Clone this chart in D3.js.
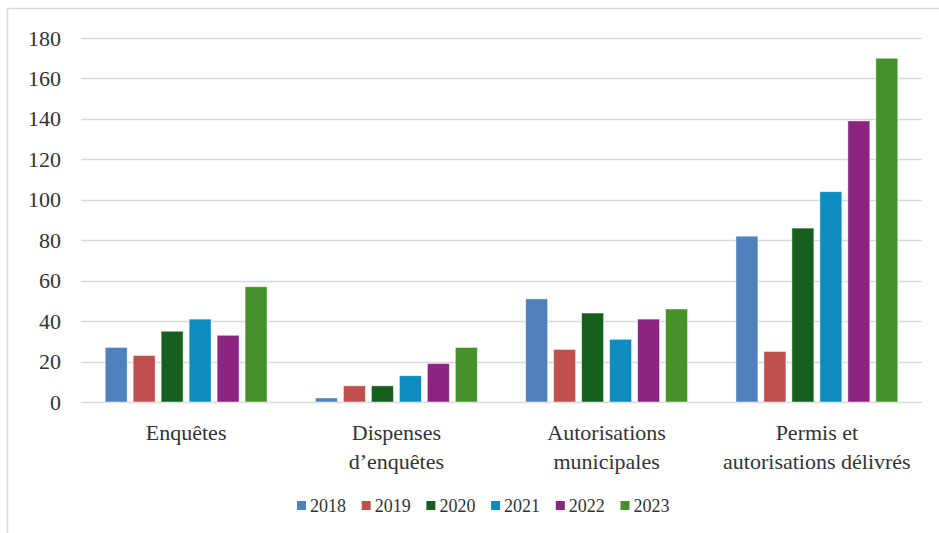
<!DOCTYPE html>
<html>
<head>
<meta charset="utf-8">
<script src="https://cdn.jsdelivr.net/npm/d3@7"></script>
<style>
    body { margin: 0; background: #fff; }
    svg text { font-family: "Liberation Serif", Tinos, "Times New Roman", "DejaVu Serif", serif; fill: #333; }
</style>
</head>
<body>
<div id="chart"></div>
<script>
const categories = [
    ["Enquêtes"],
    ["Dispenses", "d\u2019enquêtes"],
    ["Autorisations", "municipales"],
    ["Permis et", "autorisations délivrés"]
];
const years = ["2018", "2019", "2020", "2021", "2022", "2023"];
const colors = ["#4f81bd", "#c0504d", "#175f1f", "#0e8bbf", "#8b2581", "#46922a"];
const values_2018 = [27, 2, 51, 82];
const values_2019 = [23, 8, 26, 25];
const values_2020 = [35, 8, 44, 86];
const values_2021 = [41, 13, 31, 104];
const values_2022 = [33, 19, 41, 139];
const values_2023 = [57, 27, 46, 170];
const y_ticks = [0, 20, 40, 60, 80, 100, 120, 140, 160, 180];

const series = [values_2018, values_2019, values_2020, values_2021, values_2022, values_2023];
const serif = "'Liberation Serif', Tinos, 'Times New Roman', 'DejaVu Serif', serif";

const W = 939, H = 533;
const margin = {top: 38, right: 17, bottom: 131, left: 81};
const width = W - margin.left - margin.right,
    height = H - margin.top - margin.bottom;

const root = d3.select("#chart").append("svg")
    .attr("width", W)
    .attr("height", H)
    .attr("font-family", serif);

// outer frame
root.append("rect")
    .attr("x", 7.5).attr("y", 8.5)
    .attr("width", W).attr("height", H)
    .attr("fill", "none")
    .attr("stroke", "#d9d9d9")
    .attr("stroke-width", 1.5);

const svg = root.append("g")
    .attr("transform", "translate(" + margin.left + "," + margin.top + ")");

const cat_keys = categories.map(function (c) { return c.join(" "); });

const x0 = d3.scaleBand()
    .domain(cat_keys)
    .range([0, width])
    .paddingInner(0.23)
    .paddingOuter(0.115);

const x1 = d3.scaleBand()
    .domain(years)
    .range([0, x0.bandwidth()])
    .paddingInner(0.214)
    .paddingOuter(0);

const y = d3.scaleLinear()
    .domain([0, 180])
    .range([height, 0]);

// grid lines
svg.append("g")
    .selectAll("line")
    .data(y_ticks)
    .join("line")
    .attr("x1", 0)
    .attr("x2", width)
    .attr("y1", function (d) { return Math.round(y(d)) + 0.5; })
    .attr("y2", function (d) { return Math.round(y(d)) + 0.5; })
    .attr("stroke", "#d9d9d9")
    .attr("stroke-width", 1.5);

svg.append("g")
    .call(d3.axisLeft(y)
        .tickValues(y_ticks)
        .tickSizeInner(0)
        .tickSizeOuter(0)
        .tickPadding(20))
    .attr("font-family", serif)
    .attr("font-size", 22)
    .call(function (g) { g.select(".domain").remove(); })
    .selectAll("text")
    .attr("fill", "#333");

// bars
const groups = svg.append("g")
    .selectAll("g")
    .data(cat_keys)
    .join("g")
    .attr("transform", function (d) { return "translate(" + x0(d) + ",0)"; });

groups.selectAll("rect")
    .data(function (d, i) {
        return years.map(function (yr, j) { return {year: yr, value: series[j][i], color: colors[j]}; });
    })
    .join("rect")
    .attr("x", function (d) { return x1(d.year); })
    .attr("y", function (d) { return y(d.value); })
    .attr("width", x1.bandwidth())
    .attr("height", function (d) { return height - y(d.value); })
    .attr("fill", function (d) { return d.color; })
    .attr("stroke", "#ffffff")
    .attr("stroke-opacity", 0.6)
    .attr("stroke-width", 0.8);

// category labels
const labels = svg.append("g")
    .attr("font-size", 22)
    .selectAll("text")
    .data(categories)
    .join("text")
    .attr("text-anchor", "middle")
    .attr("x", function (d, i) { return x0(cat_keys[i]) + x0.bandwidth() / 2; })
    .attr("y", height + 38);

labels.selectAll("tspan")
    .data(function (d) { return d; })
    .join("tspan")
    .attr("x", function () { return d3.select(this.parentNode).attr("x"); })
    .attr("dy", function (d, i) { return i === 0 ? 0 : 29; })
    .text(function (d) { return d; });

// legend
const legend = root.append("g")
    .attr("font-size", 18)
    .attr("transform", "translate(297, 506)");

const items = legend.selectAll("g")
    .data(years)
    .join("g")
    .attr("transform", function (d, i) { return "translate(" + (i * 64.7) + ",0)"; });

items.append("rect")
    .attr("x", 0)
    .attr("y", -5)
    .attr("width", 9)
    .attr("height", 9)
    .attr("fill", function (d, i) { return colors[i]; });

items.append("text")
    .attr("x", 13)
    .attr("y", 6)
    .text(function (d) { return d; });
</script>
</body>
</html>
